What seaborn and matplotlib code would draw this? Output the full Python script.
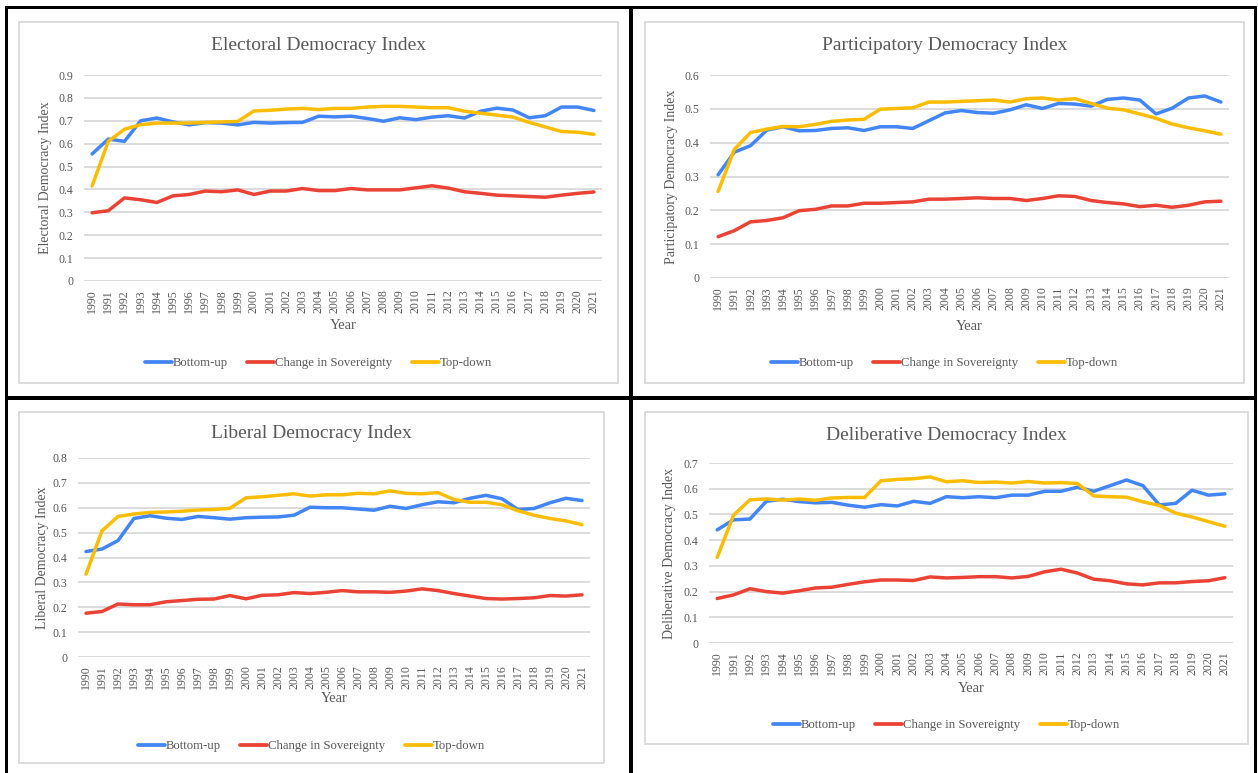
import matplotlib
matplotlib.use('Agg')
import matplotlib.pyplot as plt
from matplotlib.patches import Rectangle
import seaborn as sns
import pandas as pd

sns.set_style('white')
plt.rcParams['font.family'] = ['Liberation Serif', 'DejaVu Serif']

years = list(range(1990, 2022))
series_names = ['Bottom-up', 'Change in Sovereignty', 'Top-down']
colors = {'Bottom-up': '#4285F4', 'Change in Sovereignty': '#EA4335', 'Top-down': '#FBBC04'}

# Electoral Democracy Index
electoral_bottom = [0.555, 0.62, 0.61, 0.70, 0.712, 0.695, 0.682, 0.692, 0.69, 0.682, 0.693, 0.69,
                    0.692, 0.693, 0.72, 0.717, 0.72, 0.71, 0.698, 0.713, 0.705, 0.716, 0.722, 0.712,
                    0.742, 0.755, 0.747, 0.713, 0.722, 0.76, 0.76, 0.745]
electoral_change = [0.298, 0.307, 0.363, 0.355, 0.343, 0.372, 0.378, 0.393, 0.39, 0.398, 0.378, 0.393,
                    0.393, 0.404, 0.395, 0.395, 0.404, 0.398, 0.398, 0.398, 0.407, 0.416, 0.406, 0.39,
                    0.383, 0.375, 0.372, 0.369, 0.366, 0.375, 0.383, 0.389]
electoral_top = [0.415, 0.61, 0.663, 0.683, 0.69, 0.69, 0.69, 0.693, 0.695, 0.697, 0.743, 0.746,
                 0.751, 0.754, 0.749, 0.754, 0.754, 0.76, 0.763, 0.763, 0.76, 0.757, 0.757, 0.742,
                 0.733, 0.725, 0.716, 0.693, 0.673, 0.653, 0.65, 0.641]

# Participatory Democracy Index
particip_bottom = [0.305, 0.372, 0.391, 0.437, 0.447, 0.435, 0.436, 0.442, 0.444, 0.436, 0.447, 0.447,
                   0.442, 0.465, 0.488, 0.495, 0.489, 0.487, 0.497, 0.512, 0.501, 0.516, 0.514, 0.508,
                   0.528, 0.532, 0.526, 0.485, 0.502, 0.532, 0.538, 0.52]
particip_change = [0.122, 0.14, 0.166, 0.17, 0.178, 0.199, 0.203, 0.213, 0.213, 0.221, 0.221, 0.223,
                   0.225, 0.233, 0.233, 0.235, 0.237, 0.235, 0.235, 0.229, 0.235, 0.243, 0.241, 0.229,
                   0.223, 0.219, 0.211, 0.215, 0.209, 0.215, 0.225, 0.227]
particip_top = [0.256, 0.38, 0.43, 0.44, 0.448, 0.447, 0.454, 0.463, 0.467, 0.469, 0.499, 0.501,
                0.503, 0.52, 0.52, 0.522, 0.524, 0.526, 0.52, 0.53, 0.532, 0.526, 0.53, 0.516,
                0.502, 0.497, 0.485, 0.472, 0.455, 0.444, 0.435, 0.425]

# Liberal Democracy Index
liberal_bottom = [0.424, 0.434, 0.468, 0.557, 0.568, 0.558, 0.553, 0.565, 0.56, 0.554, 0.56, 0.562,
                  0.563, 0.57, 0.602, 0.6, 0.6, 0.595, 0.59, 0.606, 0.597, 0.612, 0.624, 0.62,
                  0.638, 0.65, 0.636, 0.593, 0.597, 0.62, 0.638, 0.629]
liberal_change = [0.176, 0.183, 0.213, 0.21, 0.21, 0.222, 0.227, 0.232, 0.233, 0.247, 0.234, 0.248,
                  0.25, 0.259, 0.255, 0.26, 0.267, 0.262, 0.262, 0.26, 0.265, 0.274, 0.267, 0.255,
                  0.245, 0.235, 0.233, 0.235, 0.238, 0.247, 0.245, 0.25]
liberal_top = [0.333, 0.507, 0.565, 0.575, 0.581, 0.583, 0.586, 0.591, 0.593, 0.598, 0.64, 0.644,
               0.65, 0.656, 0.647, 0.652, 0.652, 0.658, 0.656, 0.668, 0.658, 0.656, 0.661, 0.633,
               0.622, 0.622, 0.612, 0.588, 0.57, 0.557, 0.547, 0.532]

# Deliberative Democracy Index
delib_bottom = [0.44, 0.479, 0.482, 0.551, 0.559, 0.55, 0.545, 0.547, 0.536, 0.528, 0.538, 0.533,
                0.551, 0.543, 0.569, 0.565, 0.569, 0.565, 0.575, 0.575, 0.59, 0.59, 0.606, 0.59,
                0.612, 0.634, 0.612, 0.537, 0.543, 0.594, 0.575, 0.58]
delib_change = [0.173, 0.187, 0.211, 0.2, 0.194, 0.203, 0.214, 0.217, 0.228, 0.238, 0.245, 0.245,
                0.243, 0.257, 0.253, 0.255, 0.258, 0.258, 0.253, 0.259, 0.277, 0.287, 0.272, 0.248,
                0.242, 0.23, 0.226, 0.234, 0.234, 0.239, 0.242, 0.254]
delib_top = [0.333, 0.497, 0.557, 0.56, 0.556, 0.56, 0.555, 0.564, 0.566, 0.566, 0.631, 0.636,
             0.639, 0.646, 0.627, 0.631, 0.624, 0.626, 0.622, 0.628, 0.622, 0.624, 0.62, 0.572,
             0.569, 0.567, 0.549, 0.535, 0.505, 0.49, 0.472, 0.454]

W, H = 1258, 773
TXT = '#595959'

# title, y max, series, axes box (x0, x1, ytop, ybottom), chart frame (x0, y0, x1, y1),
# title y, legend y, "Year" y, y-label x  (all in pixels)
panels = [
    ('Electoral Democracy Index', 0.9, [electoral_bottom, electoral_change, electoral_top],
     (84, 602, 75, 281), (19, 22, 618, 383), 45, 363, 326, 46),
    ('Participatory Democracy Index', 0.6, [particip_bottom, particip_change, particip_top],
     (710, 1229, 75, 278), (645, 22, 1244, 383), 45, 363, 326, 671),
    ('Liberal Democracy Index', 0.8, [liberal_bottom, liberal_change, liberal_top],
     (78, 590, 458, 657), (19, 412, 604, 763), 433, 746, 698, 43),
    ('Deliberative Democracy Index', 0.7, [delib_bottom, delib_change, delib_top],
     (709, 1233, 463, 643), (645, 412, 1248, 744), 436, 725, 688, 670),
]

fig = plt.figure(figsize=(W / 100, H / 100), dpi=100)


def rect(x0, y0, x1, y1, **kw):
    r = Rectangle((x0 / W, 1 - y1 / H), (x1 - x0) / W, (y1 - y0) / H,
                  transform=fig.transFigure, **kw)
    fig.add_artist(r)


for title, ymax, vals, box, frame, ty, ly, xly, ylx in panels:
    x0, x1, yt, yb = box
    ax = fig.add_axes([x0 / W, 1 - yb / H, (x1 - x0) / W, (yb - yt) / H])
    ax.set_facecolor('none')

    df = pd.DataFrame({'Year': years * 3,
                       'value': vals[0] + vals[1] + vals[2],
                       'series': [s for s in series_names for _ in years]})
    sns.lineplot(data=df, x='Year', y='value', hue='series', palette=colors,
                 linewidth=2.5, ax=ax)

    ax.set_xlim(1989.5, 2021.5)
    ax.set_ylim(0, ymax)
    ticks = [round(i * 0.1, 1) for i in range(int(round(ymax * 10)) + 1)]
    ax.set_yticks(ticks)
    ax.set_yticklabels([f'{t:g}' for t in ticks])
    ax.set_xticks(years)
    ax.set_xticklabels([str(y) for y in years], rotation=90)
    ax.tick_params(axis='both', length=0, labelsize=8.6, labelcolor=TXT)
    ax.tick_params(axis='y', pad=7.5)
    ax.tick_params(axis='x', pad=6)
    ax.yaxis.grid(True, color='#d9d9d9', linewidth=1.3)
    ax.xaxis.grid(False)
    for sp in ax.spines.values():
        sp.set_visible(False)

    ax.set_xlabel('Year', fontsize=10.5, color=TXT)
    ax.set_ylabel(title, fontsize=10, color=TXT)
    ax.xaxis.set_label_coords(0.5, (yb - xly) / (yb - yt))
    ax.xaxis.label.set_va('center')
    ax.yaxis.set_label_coords((ylx - x0) / (x1 - x0), 0.5)
    ax.yaxis.label.set_va('center')

    fx0, fy0, fx1, fy1 = frame
    cx = (fx0 + fx1) / 2
    fig.text(cx / W, 1 - ty / H, title, ha='center', va='center', fontsize=14, color=TXT)

    sns.move_legend(ax, 'center', bbox_to_anchor=(cx / W, 1 - ly / H),
                    bbox_transform=fig.transFigure, ncol=3, frameon=False, title=None,
                    fontsize=9.2, handlelength=2.1, handletextpad=0.1, columnspacing=1.5)
    for t in ax.get_legend().get_texts():
        t.set_color(TXT)
    for h in ax.get_legend().legend_handles:
        h.set_linewidth(2.7)

    rect(fx0, fy0, fx1, fy1, facecolor='none', edgecolor='#d9d9d9', linewidth=1.3)

# black panel borders
rect(5, 6, 1257, 8.5, facecolor='black', edgecolor='none')
rect(5, 6, 7.5, 773, facecolor='black', edgecolor='none')
rect(629, 6, 632.5, 773, facecolor='black', edgecolor='none')
rect(1254, 6, 1257, 773, facecolor='black', edgecolor='none')
rect(5, 396, 1257, 400, facecolor='black', edgecolor='none')

fig.savefig('out.png', dpi=100)
